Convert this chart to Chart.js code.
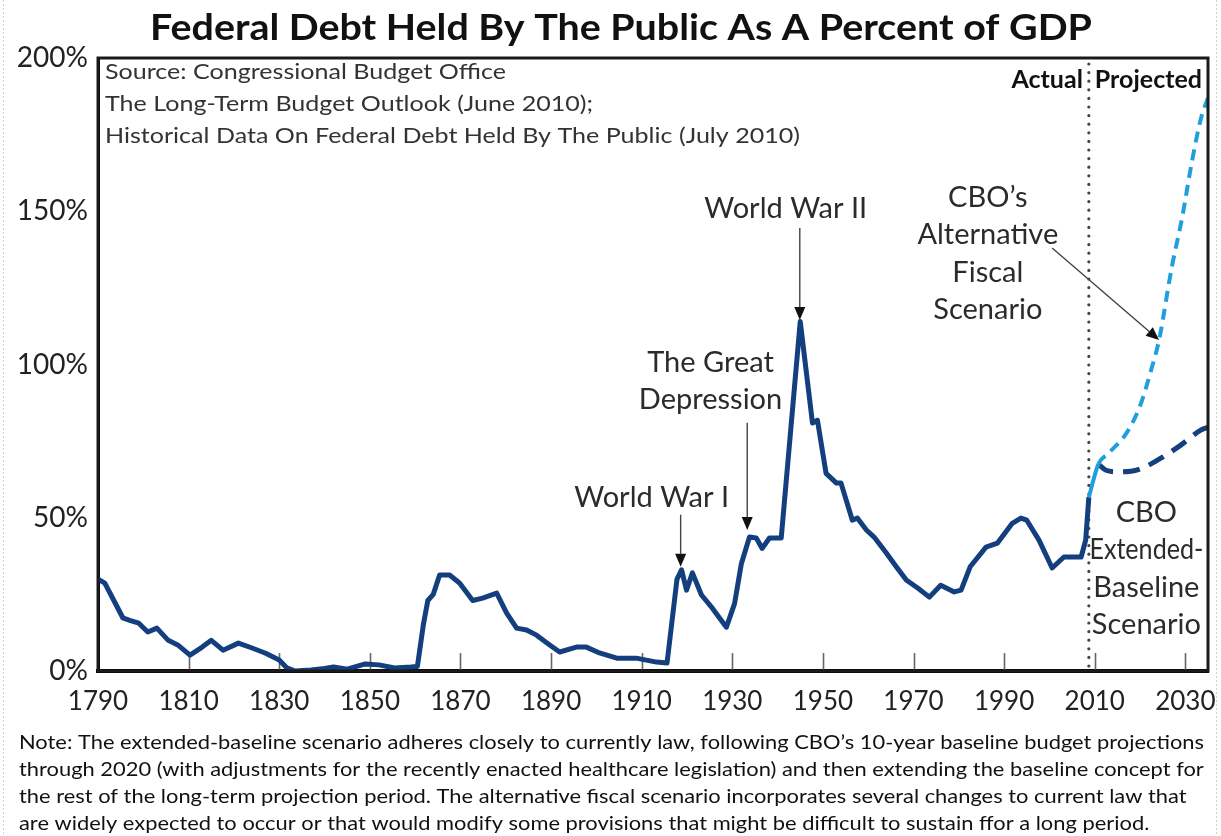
<!DOCTYPE html>
<html>
<head>
<meta charset="utf-8">
<title>Federal Debt Held By The Public As A Percent of GDP</title>
<script src="https://cdn.jsdelivr.net/npm/chart.js@4.4.1/dist/chart.umd.min.js"></script>
<style>
html,body{margin:0;padding:0;background:#fff;}
#wrap{position:relative;width:1221px;height:836px;}
</style>
</head>
<body>
<div id="wrap"><canvas id="debt"></canvas></div>
<script>
const FONT = 'Lato, "Open Sans", sans-serif';

// axis ticks
const yearTicks = [1790,1810,1830,1850,1870,1890,1910,1930,1950,1970,1990,2010,2030];
const pctTicks = [0,50,100,150,200];

// debt held by the public, % of GDP (actual)
const histYears = [1790,1791.5,1793.5,1795.5,1797,1799,1801,1803,1805.5,1807.6,1810.3,1813,1815,1817.6,1821,1824,1827,1830,1831.7,1833.5,1837,1840,1842,1845,1849,1852,1855.5,1859,1860.5,1861.8,1862.8,1864,1865.4,1867.6,1869.8,1872.7,1874.9,1878,1880.2,1882.4,1884.6,1886.8,1889.7,1891.9,1895.6,1897.8,1900.7,1904.5,1908.8,1913.3,1915.6,1917.8,1918.8,1919.9,1921.2,1923.2,1925.6,1928.7,1930.5,1932,1933.8,1935.3,1936.6,1938.2,1940.8,1945,1947.7,1948.8,1950.7,1953,1954,1956.5,1957.6,1959.6,1961.3,1964,1966.2,1968.4,1971,1973.5,1976,1979,1980.5,1982.5,1986,1988.5,1991.8,1993.7,1995,1997.7,2000.6,2003.2,2005,2007,2008,2008.7];
const histDebt = [30,28.7,23,17.3,16.5,15.6,12.7,14,10,8.5,5.2,7.8,10,6.8,9.1,7.5,5.8,3.6,1,0,0.3,0.8,1.3,0.6,2.3,2,1,1.3,1.5,15,23,25,31.3,31.3,28.7,23,23.8,25.4,18.9,14,13.4,11.7,8.5,6.2,7.8,7.8,5.9,4.2,4.2,2.9,2.6,30,33,26.4,32,24.8,20.5,14.3,22,35,43.7,43.4,40,43.4,43.4,114,80.9,81.8,64.5,61.3,61.3,49.2,49.9,46,43.7,38.5,34,29.7,27,24.1,28,25.8,26.4,34,40.4,41.7,48.2,49.9,49.2,42.7,33.6,37.2,37.2,37.2,42.7,56.7];

// CBO alternative fiscal scenario
const altYears = [2008.7,2010.8,2013,2017,2020,2022.6,2024.2,2027,2029.3,2031.5,2033.5,2035];
const altDebt = [56.7,67.5,71,77.6,86.5,99,108,131.7,148,166.6,180.6,187];

// CBO extended-baseline scenario
const baseYears = [2010.8,2012.5,2015,2018,2021,2025,2029,2033.4,2035];
const baseDebt = [67.5,65.5,65,65.2,66.5,69.8,73.7,78.6,79.5];

const splitYear = 2008.7;

const titleText = 'Federal Debt Held By The Public As A Percent of GDP';
const sourceLines = [
  'Source: Congressional Budget Office',
  'The Long-Term Budget Outlook (June 2010);',
  'Historical Data On Federal Debt Held By The Public (July 2010)'
];
const noteLines = [
  'Note: The extended-baseline scenario adheres closely to currently law, following CBO\u2019s 10-year baseline budget projections',
  'through 2020 (with adjustments for the recently enacted healthcare legislation) and then extending the baseline concept for',
  'the rest of the long-term projection period. The alternative fiscal scenario incorporates several changes to current law that',
  'are widely expected to occur or that would modify some provisions that might be difficult to sustain ffor a long period.'
];

// callouts placed in data units: [year, pct]
const callouts = [
  {lines:['World War II'], at:[1941.8,151], arrow:[[1944.9,144.5],[1944.9,114.5]]},
  {lines:['The Great','Depression'], at:[1925.2,100.7], arrow:[[1933.3,81],[1933.3,46]]},
  {lines:['World War I'], at:[1912.2,56.7], arrow:[[1918.6,51],[1918.6,34]]},
  {lines:['CBO\u2019s','Alternative','Fiscal','Scenario'], at:[1986.4,154.5], arrow:[[2000.6,138],[2024.2,108]]},
  {lines:['CBO','Extended-','Baseline','Scenario'], at:[2021.4,51.8], maxWidth: 114}
];

const pts = (xs, ys) => xs.map((x, i) => ({x, y: ys[i]}));

function arrow(ctx, x1, y1, x2, y2){
  const ang = Math.atan2(y2 - y1, x2 - x1), len = 13, half = 5.5;
  const bx = x2 - len * Math.cos(ang), by = y2 - len * Math.sin(ang);
  ctx.beginPath(); ctx.moveTo(x1, y1); ctx.lineTo(bx, by); ctx.stroke();
  ctx.beginPath();
  ctx.moveTo(x2, y2);
  ctx.lineTo(bx - half * Math.sin(ang), by + half * Math.cos(ang));
  ctx.lineTo(bx + half * Math.sin(ang), by - half * Math.cos(ang));
  ctx.closePath(); ctx.fill();
}

function squeezed(ctx, str, x, y, sx){
  ctx.save(); ctx.translate(x, y); ctx.scale(sx, 1); ctx.fillText(str, 0, 0); ctx.restore();
}

const decor = {
  id: 'decor',
  beforeDraw(chart){
    const {ctx, width, height} = chart;
    ctx.save();
    ctx.fillStyle = '#fff'; ctx.fillRect(0, 0, width, height);
    ctx.strokeStyle = '#cfcfcf'; ctx.lineWidth = 1; ctx.setLineDash([2, 2]);
    ctx.beginPath();
    ctx.moveTo(3.5, 0); ctx.lineTo(3.5, height);
    ctx.moveTo(width - 4.5, 0); ctx.lineTo(width - 4.5, height);
    ctx.stroke();
    ctx.restore();
  },
  beforeDatasetsDraw(chart){
    const {ctx, chartArea: a, scales: {x}} = chart;
    ctx.save();
    // short tick marks standing inside the plot
    ctx.strokeStyle = '#666'; ctx.lineWidth = 1.6;
    yearTicks.forEach(v => {
      if (v === yearTicks[0]) return;
      const px = Math.round(x.getPixelForValue(v)) + 0.5;
      ctx.beginPath(); ctx.moveTo(px, a.bottom); ctx.lineTo(px, a.bottom - 18); ctx.stroke();
    });
    // actual / projected divider
    const dx = x.getPixelForValue(splitYear);
    ctx.strokeStyle = '#444'; ctx.lineWidth = 3.2; ctx.lineCap = 'round'; ctx.setLineDash([0, 8.6]);
    ctx.beginPath(); ctx.moveTo(dx, a.top + 6); ctx.lineTo(dx, a.bottom); ctx.stroke();
    ctx.restore();
  },
  afterDatasetsDraw(chart){
    const {ctx, chartArea: a, scales: {x, y}} = chart;
    ctx.save();
    ctx.strokeStyle = '#1a1a1a'; ctx.lineWidth = 3;
    ctx.strokeRect(a.left, a.top, a.right - a.left, a.bottom - a.top);

    // callouts
    ctx.font = '29px ' + FONT; ctx.fillStyle = '#2b2b2b';
    ctx.textAlign = 'center'; ctx.textBaseline = 'middle';
    callouts.forEach(c => {
      const cx = x.getPixelForValue(c.at[0]), cy = y.getPixelForValue(c.at[1]);
      c.lines.forEach((t, i) => ctx.fillText(t, cx, cy + i * 37.5, c.maxWidth));
      if (c.arrow){
        ctx.strokeStyle = '#444'; ctx.fillStyle = '#111'; ctx.lineWidth = 1.4;
        const [p, q] = c.arrow;
        arrow(ctx, x.getPixelForValue(p[0]), y.getPixelForValue(p[1]), x.getPixelForValue(q[0]), y.getPixelForValue(q[1]));
        ctx.fillStyle = '#2b2b2b';
      }
    });

    // actual / projected labels
    const dx = x.getPixelForValue(splitYear);
    ctx.font = 'bold 25px ' + FONT; ctx.fillStyle = '#111';
    ctx.textAlign = 'right'; ctx.fillText('Actual', dx - 6, 80);
    ctx.textAlign = 'left'; ctx.fillText('Projected', dx + 6, 80);

    // source block
    ctx.font = '22px ' + FONT; ctx.fillStyle = '#333';
    const sw = ctx.measureText(sourceLines[2]).width;
    const ssx = 695 / sw;
    sourceLines.forEach((t, i) => squeezed(ctx, t, 105, 72 + i * 32, ssx));

    // title
    ctx.font = 'bold 36px ' + FONT; ctx.fillStyle = '#111';
    ctx.textAlign = 'center';
    const tw = ctx.measureText(titleText).width;
    squeezed(ctx, titleText, 621, 28, 942 / tw);

    // note under the chart
    ctx.font = '20px ' + FONT; ctx.fillStyle = '#111'; ctx.textAlign = 'left';
    const nsx = 1185 / ctx.measureText(noteLines[0]).width;
    noteLines.forEach((t, i) => squeezed(ctx, t, 19, 743 + i * 27, nsx));
    ctx.restore();
  }
};

new Chart(document.getElementById('debt'), {
  type: 'line',
  data: {
    datasets: [
      {
        data: pts(altYears, altDebt),
        borderColor: '#1f9fdc', borderWidth: 4,
        segment: {borderDash: c => c.p0DataIndex === 0 ? [] : [11, 7]},
        cubicInterpolationMode: 'monotone', pointRadius: 0
      },
      {
        data: pts(baseYears, baseDebt),
        borderColor: '#14407c', borderWidth: 5, borderDash: [17, 10],
        cubicInterpolationMode: 'monotone', pointRadius: 0
      },
      {
        data: pts(histYears, histDebt),
        borderColor: '#133f7f', borderWidth: 5, borderJoinStyle: 'round',
        tension: 0, pointRadius: 0
      }
    ]
  },
  options: {
    responsive: true, maintainAspectRatio: false,
    animation: false, events: [],
    layout: {padding: {top: 58, right: 13, bottom: 120, left: 0}},
    plugins: {legend: {display: false}, tooltip: {enabled: false}, title: {display: false}},
    scales: {
      x: {
        type: 'linear', min: 1790, max: 2035,
        afterBuildTicks: s => { s.ticks = yearTicks.map(v => ({value: v})); },
        // fixed height, and no extra room reserved for the end labels
        afterFit: s => { s.height = 45; s.paddingLeft = 0; s.paddingRight = 0; },
        grid: {display: false, drawTicks: false},
        border: {display: true, color: '#000', width: 4},
        ticks: {autoSkip: false, maxRotation: 0, padding: 15, color: '#222', font: {family: FONT, size: 26}, callback: v => String(v)}
      },
      y: {
        min: 0, max: 200,
        afterBuildTicks: s => { s.ticks = pctTicks.map(v => ({value: v})); },
        afterFit: s => { s.width = 98; },
        grid: {display: false, drawTicks: false},
        border: {display: true, color: '#000', width: 3},
        ticks: {padding: 10, color: '#222', font: {family: FONT, size: 28}, callback: v => v + '%'}
      }
    }
  },
  plugins: [decor]
});
</script>
</body>
</html>
